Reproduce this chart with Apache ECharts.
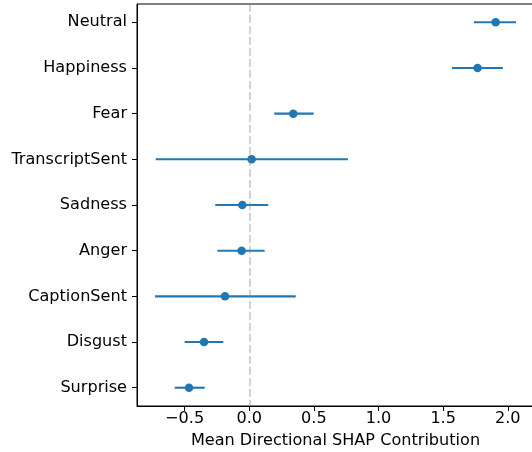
<!DOCTYPE html>
<html><head><meta charset="utf-8">
<script src="https://cdn.jsdelivr.net/npm/echarts@6/dist/echarts.min.js"></script>
<style>html,body{margin:0;padding:0;background:#fff}#c{width:532px;height:452px}</style>
</head><body><div id="c"></div>
<script>
const categories = ['Neutral','Happiness','Fear','TranscriptSent','Sadness','Anger','CaptionSent','Disgust','Surprise'];
const means = [1.906, 1.766, 0.340, 0.018, -0.054, -0.059, -0.188, -0.350, -0.466];
const lower = [1.738, 1.568, 0.193, -0.724, -0.263, -0.247, -0.729, -0.500, -0.577];
const upper = [2.063, 1.962, 0.498, 0.763, 0.147, 0.119, 0.359, -0.201, -0.345];
const xTicks = [-0.5, 0, 0.5, 1, 1.5, 2];
const xLabel = 'Mean Directional SHAP Contribution';

const lo = Math.min(...lower), hi = Math.max(...upper);
const pad = (hi - lo) * 0.05;
const xMin = lo - pad, xMax = hi + pad;
const yIdx = categories.map((c, i) => i);

const FONT = 'DejaVu Sans';
const FS = 16.1;
const chart = echarts.init(document.getElementById('c'), null, {renderer: 'canvas'});
chart.setOption({
  animation: false,
  backgroundColor: '#fff',
  grid: {left: 137, top: 4, right: -2, bottom: 46, show: true, borderColor: '#000', borderWidth: 1, backgroundColor: 'transparent', outerBoundsMode: 'none', containLabel: false},
  xAxis: {
    type: 'value', min: xMin, max: xMax,
    name: xLabel, nameLocation: 'middle', nameGap: 27,
    nameTextStyle: {fontFamily: FONT, fontSize: FS, color: '#000'},
    axisLine: {show: true, onZero: false, lineStyle: {color: '#000', width: 1}},
    axisTick: {show: true, length: 5, customValues: xTicks, lineStyle: {color: '#000', width: 1}},
    axisLabel: {customValues: xTicks, margin: 5, fontFamily: FONT, fontSize: FS, color: '#000',
      formatter: v => v.toFixed(1).replace('-', '\u2212')},
    splitLine: {show: false}
  },
  yAxis: {
    type: 'value', inverse: true, min: -0.4, max: categories.length - 1 + 0.4,
    axisLine: {show: true, onZero: false, lineStyle: {color: '#000', width: 1}},
    axisTick: {show: true, length: 5, customValues: yIdx, lineStyle: {color: '#000', width: 1}},
    axisLabel: {customValues: yIdx, margin: 10, fontFamily: FONT, fontSize: FS, color: '#000',
      formatter: v => categories[Math.round(v)]},
    splitLine: {show: false}
  },
  series: [
    {
      type: 'custom', z: 2,
      data: categories.map((c, i) => [i, lower[i], upper[i]]),
      encode: {x: [1, 2], y: 0},
      renderItem: (params, api) => {
        const a = api.coord([api.value(1), api.value(0)]);
        const b = api.coord([api.value(2), api.value(0)]);
        return {type: 'line', shape: {x1: a[0], y1: a[1], x2: b[0], y2: b[1]},
          style: {stroke: '#1f77b4', lineWidth: 2.1}};
      }
    },
    {
      type: 'line', z: 2.5, data: [],
      markLine: {silent: true, symbol: 'none', label: {show: false},
        lineStyle: {color: 'rgba(128,128,128,0.35)', type: [7.7, 3.3], width: 2},
        data: [{xAxis: 0}]}
    },
    {
      type: 'scatter', z: 3, symbol: 'circle', symbolSize: 8.5,
      itemStyle: {color: '#1f77b4', opacity: 1},
      data: means.map((m, i) => [m, i])
    }
  ]
});
</script></body></html>
